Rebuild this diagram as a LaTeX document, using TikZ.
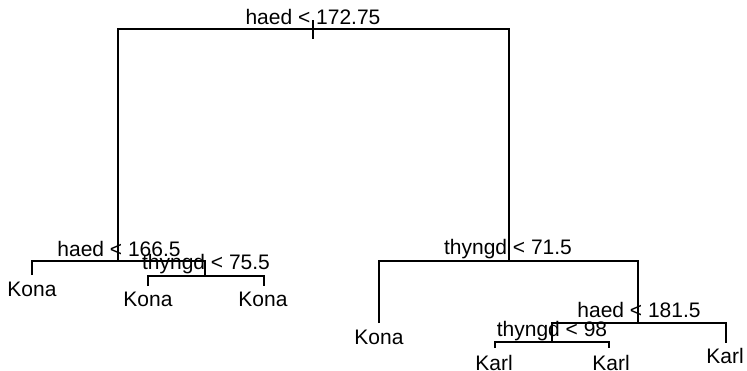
\documentclass[tikz,border=0pt]{standalone}
\usepackage{fontspec}
\setmainfont{Liberation Sans}
\begin{document}
\begin{tikzpicture}[x=1bp,y=-1bp,
  edge/.style={line width=1.3bp,black},
  lbl/.style={anchor=base,inner sep=0pt,font=\fontsize{21bp}{24bp}\selectfont}]
\useasboundingbox (0,0) rectangle (747,370);
% split points
\coordinate (r) at (313,20);
\coordinate (rb) at (313,39);
\coordinate (L) at (118,29);
\coordinate (R) at (509,29);
\coordinate (LL) at (32,261);
\coordinate (LR) at (205,261);
\coordinate (LRL) at (148,276);
\coordinate (LRR) at (264,276);
\coordinate (RL) at (379,261);
\coordinate (RR) at (638,261);
\coordinate (RRL) at (552,323);
\coordinate (RRR) at (726,323);
\coordinate (RRLL) at (495,342);
\coordinate (RRLR) at (609,342);
% edges
\draw[edge] (r) -- (rb);
\draw[edge] (L |- 0,261) -- (L) -- (R) -- (R |- 0,261);
\draw[edge] (LL |- 0,275) -- (LL) -- (LR) -- (LR |- 0,276);
\draw[edge] (LRL |- 0,286) -- (LRL) -- (LRR) -- (LRR |- 0,286);
\draw[edge] (RL |- 0,323) -- (RL) -- (RR) -- (RR |- 0,323);
\draw[edge] (RRL |- 0,342) -- (RRL) -- (RRR) -- (RRR |- 0,343);
\draw[edge] (RRLL |- 0,348) -- (RRLL) -- (RRLR) -- (RRLR |- 0,348);
% split labels
\node[lbl] (t0) at (313,24) {haed < 172.75};
\node[lbl] (t1) at (119,256) {haed < 166.5};
\node[lbl] (t2) at (206,269) {thyngd < 75.5};
\node[lbl] (t3) at (508,254) {thyngd < 71.5};
\node[lbl] (t4) at (639,317) {haed < 181.5};
\node[lbl] (t5) at (552,336) {thyngd < 98};
% leaves
\node[lbl] (k1) at (32,296) {Kona};
\node[lbl] (k2) at (148,306) {Kona};
\node[lbl] (k3) at (263,306) {Kona};
\node[lbl] (k4) at (379,344) {Kona};
\node[lbl] (c1) at (494,370) {Karl};
\node[lbl] (c2) at (611,370) {Karl};
\node[lbl] (c3) at (725,363) {Karl};
\end{tikzpicture}
\end{document}
